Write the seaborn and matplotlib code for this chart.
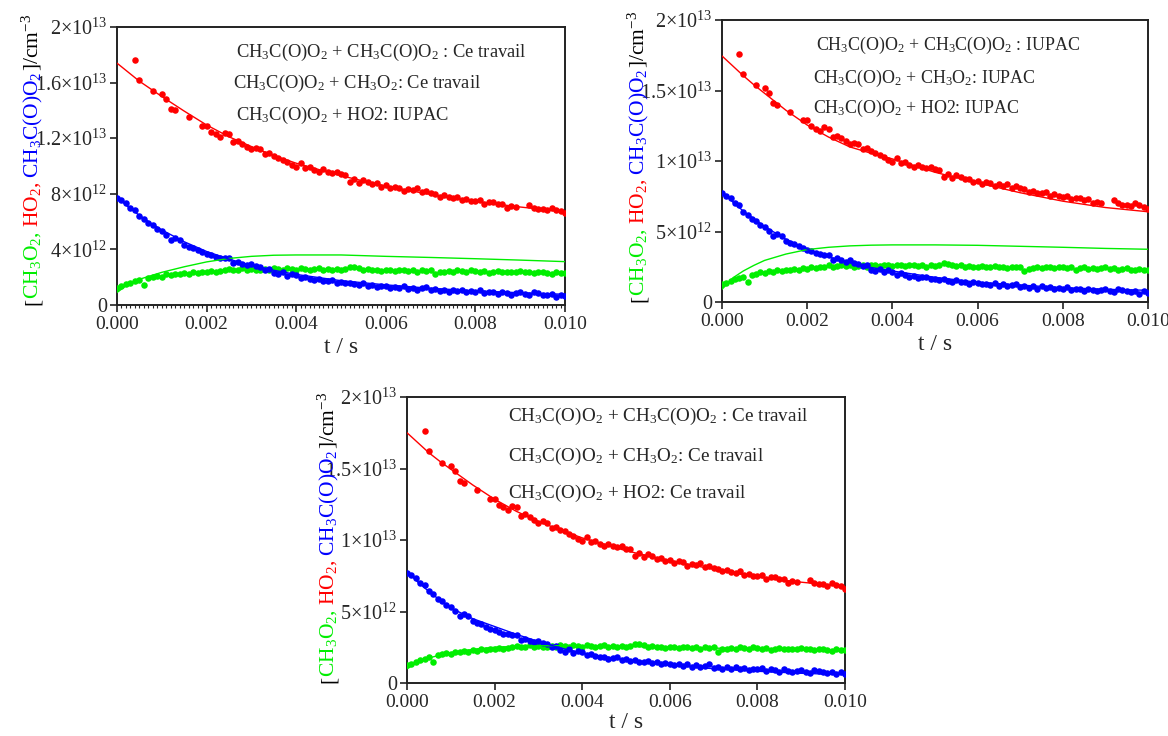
import numpy as np
import pandas as pd
import matplotlib
matplotlib.use("Agg")
import matplotlib.pyplot as plt
from matplotlib.ticker import FixedLocator, FixedFormatter, MultipleLocator
import seaborn as sns

sns.set_style("ticks")
plt.rcParams['font.family'] = ['Liberation Serif', 'DejaVu Serif']
plt.rcParams['mathtext.fontset'] = 'custom'
plt.rcParams['mathtext.rm'] = 'Liberation Serif'
plt.rcParams['mathtext.it'] = 'Liberation Serif:italic'
plt.rcParams['mathtext.bf'] = 'Liberation Serif:bold'

# ---------------- data (concentrations in units of 1e12 cm^-3) ----------------
t_step = 1e-4
n_pts = 101
t_data = np.round(np.arange(n_pts) * t_step, 6)

nan = np.nan
ho2_data = [nan, nan, nan, nan, 17.6, 16.2, nan, nan, 15.4, nan,
            15.2, 14.8, 14.1, 14.0, nan, nan, 13.5, nan, nan, 12.9,
            12.9, 12.45, 12.3, 12.1, 12.4, 12.3, 11.7, 11.8, 11.6, 11.4,
            11.2, 11.3, 11.2, 10.85, 10.9, 10.7, 10.6, 10.4, 10.3, 10.1,
            9.9, 10.2, 9.85, 9.9, 9.7, 9.6, 9.75, 9.6, 9.5, 9.55,
            9.4, 9.35, 8.85, 9.1, 8.8, 9.0, 8.85, 8.7, 8.75, 8.5,
            8.6, 8.4, 8.5, 8.45, 8.2, 8.35, 8.25, 8.4, 8.1, 8.2,
            8.05, 8.0, 7.8, 7.9, 7.75, 7.7, 7.8, 7.55, 7.65, 7.5,
            7.45, 7.55, 7.3, 7.4, 7.4, 7.25, 7.3, 7.0, 7.1, 7.05,
            nan, nan, 7.2, 7.0, 6.9, 6.9, 6.8, 7.0, 6.85, 6.75,
            6.6]
acpo2_data = [7.7, 7.55, 7.35, 7.0, 6.85, 6.4, 6.2, 5.9, 5.75, 5.45,
              5.3, 5.05, 4.7, 4.85, 4.7, 4.35, 4.2, 4.1, 3.95, 3.8,
              3.7, 3.6, 3.45, 3.4, 3.35, 3.35, 3.0, 3.1, 2.95, 2.85,
              2.95, 2.8, 2.7, 2.55, 2.6, 2.3, 2.2, 2.35, 2.1, 2.25,
              2.15, 1.95, 2.05, 1.9, 1.8, 1.85, 1.7, 1.75, 1.8, 1.6,
              1.65, 1.55, 1.6, 1.5, 1.45, 1.55, 1.4, 1.45, 1.3, 1.4,
              1.35, 1.25, 1.3, 1.2, 1.35, 1.15, 1.25, 1.1, 1.2, 1.3,
              1.05, 1.15, 1.0, 1.1, 0.95, 1.1, 1.0, 1.05, 0.9, 1.0,
              0.95, 1.05, 0.85, 0.95, 0.9, 0.8, 0.95, 0.85, 0.75, 0.85,
              0.9, 0.8, 0.7, 0.9, 0.85, 0.75, 0.7, 0.8, 0.6, 0.75,
              0.65]
ch3o2_data = [1.25, 1.35, 1.5, 1.6, 1.7, 1.8, 1.45, 1.95, 2.0, 2.1,
              2.05, 2.2, 2.15, 2.25, 2.2, 2.3, 2.25, 2.35, 2.3, 2.4,
              2.35, 2.45, 2.4, 2.45, 2.5, 2.6, 2.5, 2.55, 2.65, 2.55,
              2.6, 2.5, 2.55, 2.6, 2.5, 2.65, 2.6, 2.55, 2.65, 2.6,
              2.55, 2.65, 2.6, 2.55, 2.6, 2.65, 2.55, 2.6, 2.5, 2.6,
              2.55, 2.6, 2.75, 2.7, 2.65, 2.55, 2.6, 2.5, 2.55, 2.45,
              2.5, 2.55, 2.45, 2.5, 2.55, 2.45, 2.5, 2.4, 2.5, 2.45,
              2.5, 2.2, 2.35, 2.4, 2.45, 2.4, 2.5, 2.45, 2.4, 2.5,
              2.45, 2.4, 2.45, 2.3, 2.4, 2.45, 2.35, 2.4, 2.35, 2.4,
              2.45, 2.35, 2.4, 2.3, 2.35, 2.4, 2.3, 2.25, 2.35, 2.3,
              2.3]

# model curves
t_fit = [0, 0.00025, 0.0005, 0.00075, 0.001, 0.0015, 0.002, 0.0025, 0.003,
         0.0035, 0.004, 0.005, 0.006, 0.007, 0.008, 0.009, 0.010]
ho2_fit_1 = [17.4, 16.75, 16.1, 15.55, 15.0, 13.95, 12.95, 12.1, 11.4, 10.75, 10.2, 9.3, 8.55, 7.95, 7.45, 7.05, 6.7]
acpo2_fit_1 = [7.75, 7.05, 6.45, 5.9, 5.4, 4.55, 3.85, 3.3, 2.85, 2.5, 2.2, 1.75, 1.45, 1.2, 1.02, 0.88, 0.77]
ch3o2_fit_1 = [0.9, 1.5, 1.85, 2.1, 2.35, 2.75, 3.1, 3.35, 3.5, 3.58, 3.6, 3.6, 3.5, 3.42, 3.33, 3.23, 3.12]

ho2_fit_2 = [17.45, 16.75, 16.05, 15.4, 14.8, 13.6, 12.55, 11.7, 11.0, 10.55, 10.15, 9.2, 8.45, 7.75, 7.15, 6.7, 6.4]
acpo2_fit_2 = [7.8, 7.1, 6.45, 5.9, 5.35, 4.45, 3.75, 3.2, 2.8, 2.45, 2.2, 1.75, 1.4, 1.2, 1.02, 0.9, 0.83]
ch3o2_fit_2 = [0.9, 1.7, 2.2, 2.6, 2.95, 3.4, 3.72, 3.88, 3.98, 4.03, 4.05, 4.05, 4.02, 3.95, 3.88, 3.8, 3.74]

ho2_fit_3 = [17.5, 16.8, 16.1, 15.5, 14.95, 13.85, 12.85, 12.0, 11.3, 10.7, 10.15, 9.25, 8.55, 7.95, 7.4, 7.05, 6.75]
acpo2_fit_3 = [7.8, 7.05, 6.4, 5.8, 5.25, 4.5, 3.95, 3.4, 2.9, 2.45, 2.1, 1.6, 1.25, 1.0, 0.82, 0.68, 0.58]
ch3o2_fit_3 = [1.0, 1.45, 1.75, 1.95, 2.12, 2.35, 2.5, 2.57, 2.6, 2.61, 2.6, 2.56, 2.5, 2.44, 2.37, 2.31, 2.26]

unit = 1e12

x_ticks = [0.000, 0.002, 0.004, 0.006, 0.008, 0.010]
x_tick_labels = ["0.000", "0.002", "0.004", "0.006", "0.008", "0.010"]
y_ticks_a = [0, 4e12, 8e12, 1.2e13, 1.6e13, 2e13]
y_tick_labels_a = ["0", "4×10$^{12}$", "8×10$^{12}$", "1.2×10$^{13}$", "1.6×10$^{13}$", "2×10$^{13}$"]
y_ticks_b = [0, 5e12, 1e13, 1.5e13, 2e13]
y_tick_labels_b = ["0", "5×10$^{12}$", "1×10$^{13}$", "1.5×10$^{13}$", "2×10$^{13}$"]

texts_1 = ["CH$_3$C(O)O$_2$ + CH$_3$C(O)O$_2$ : Ce travail",
           "CH$_3$C(O)O$_2$ + CH$_3$O$_2$: Ce travail",
           "CH$_3$C(O)O$_2$ + HO2: IUPAC"]
texts_2 = ["CH$_3$C(O)O$_2$ + CH$_3$C(O)O$_2$ : IUPAC",
           "CH$_3$C(O)O$_2$ + CH$_3$O$_2$: IUPAC",
           "CH$_3$C(O)O$_2$ + HO2: IUPAC"]
texts_3 = ["CH$_3$C(O)O$_2$ + CH$_3$C(O)O$_2$ : Ce travail",
           "CH$_3$C(O)O$_2$ + CH$_3$O$_2$: Ce travail",
           "CH$_3$C(O)O$_2$ + HO2: Ce travail"]

RED, BLUE, GREEN = "#ff0000", "#0000ff", "#00ee00"

ylabel_pieces = [("[", "black"), ("CH$_3$O$_2$,", GREEN), ("HO$_2$,", RED),
                 ("CH$_3$C(O)O$_2$", BLUE), ("]/cm$^{-3}$", "black")]
ylabel_gaps = [0, -1, 3, 3, 0]

df_data = pd.DataFrame({"t": t_data,
                        "ho2": np.array(ho2_data) * unit,
                        "acpo2": np.array(acpo2_data) * unit,
                        "ch3o2": np.array(ch3o2_data) * unit})

W, H = 1168, 736
fig = plt.figure(figsize=(W / 100, H / 100), dpi=100)


def rect(l, r, t, b):
    return [l / W, (H - b) / H, (r - l) / W, (b - t) / H]


def panel(rc, fits, yticks, ylabels, texts, text_pos, text_fs, ylab_x, ylab_fs, minor, xlab_pad):
    ax = fig.add_axes(rect(*rc))
    df_fit = pd.DataFrame({"t": t_fit, "ho2": np.array(fits[0]) * unit,
                           "acpo2": np.array(fits[1]) * unit,
                           "ch3o2": np.array(fits[2]) * unit})
    for col, c in (("ch3o2", GREEN), ("acpo2", BLUE), ("ho2", RED)):
        sns.scatterplot(data=df_data, x="t", y=col, ax=ax, color=c, s=22,
                        linewidth=0, edgecolor=c, zorder=3)
        sns.lineplot(data=df_fit, x="t", y=col, ax=ax, color=c, lw=1.0, zorder=4)
    ax.set_xlim(0, 0.010)
    ax.set_ylim(0, 2e13)
    ax.xaxis.set_major_locator(FixedLocator(x_ticks))
    ax.xaxis.set_major_formatter(FixedFormatter(x_tick_labels))
    ax.yaxis.set_major_locator(FixedLocator(yticks))
    ax.yaxis.set_major_formatter(FixedFormatter(ylabels))
    if minor:
        ax.xaxis.set_minor_locator(MultipleLocator(0.0001))
        ax.tick_params(axis='x', which='minor', length=2, width=0.8, direction='out')
    ax.tick_params(axis='y', which='major', labelsize=14.5, length=5, width=1.2,
                   direction='out', color='#222222', pad=2)
    ax.tick_params(axis='x', which='major', labelsize=14, length=5, width=1.2,
                   direction='out', color='#222222', pad=3)
    for s in ax.spines.values():
        s.set_linewidth(1.4)
        s.set_color('#222222')
    ax.set_xlabel("t / s", fontsize=17, labelpad=xlab_pad)
    ax.set_ylabel("")
    # legend-like texts
    for i, tx in enumerate(texts):
        x0, y0 = text_pos[i]
        ax.text(x0 / W, 1 - y0 / H, tx, transform=fig.transFigure, fontsize=text_fs,
                ha='left', va='center')
    # multicoloured y label
    y_bottom = rc[3]
    prev = None
    for j, (txt, c) in enumerate(ylabel_pieces):
        if prev is None:
            a = ax.annotate(txt, xy=(ylab_x / W, 1 - y_bottom / H), xycoords='figure fraction',
                            rotation=90, rotation_mode='anchor', ha='left', va='baseline',
                            fontsize=ylab_fs, color=c, annotation_clip=False)
        else:
            a = ax.annotate(txt, xy=(ylab_x / W, 1), xycoords=('figure fraction', prev),
                            xytext=(0, ylabel_gaps[j]), textcoords='offset points',
                            rotation=90, rotation_mode='anchor', ha='left', va='baseline',
                            fontsize=ylab_fs, color=c, annotation_clip=False)
        prev = a
    return ax


panel((117, 565, 27, 305), (ho2_fit_1, acpo2_fit_1, ch3o2_fit_1), y_ticks_a, y_tick_labels_a,
      texts_1, [(236, 52), (233, 83), (236, 115)], 13.3, 38, 15.5, True, 3)
panel((722, 1148, 20, 302), (ho2_fit_2, acpo2_fit_2, ch3o2_fit_2), y_ticks_b, y_tick_labels_b,
      texts_2, [(816, 45), (813, 78), (813, 108)], 12.9, 644, 15.5, False, 3)
panel((407, 845, 397, 683), (ho2_fit_3, acpo2_fit_3, ch3o2_fit_3), y_ticks_b, y_tick_labels_b,
      texts_3, [(508, 416), (508, 456), (508, 493)], 13.8, 334, 15.5, False, 1)

fig.savefig("out.png", dpi=100)
